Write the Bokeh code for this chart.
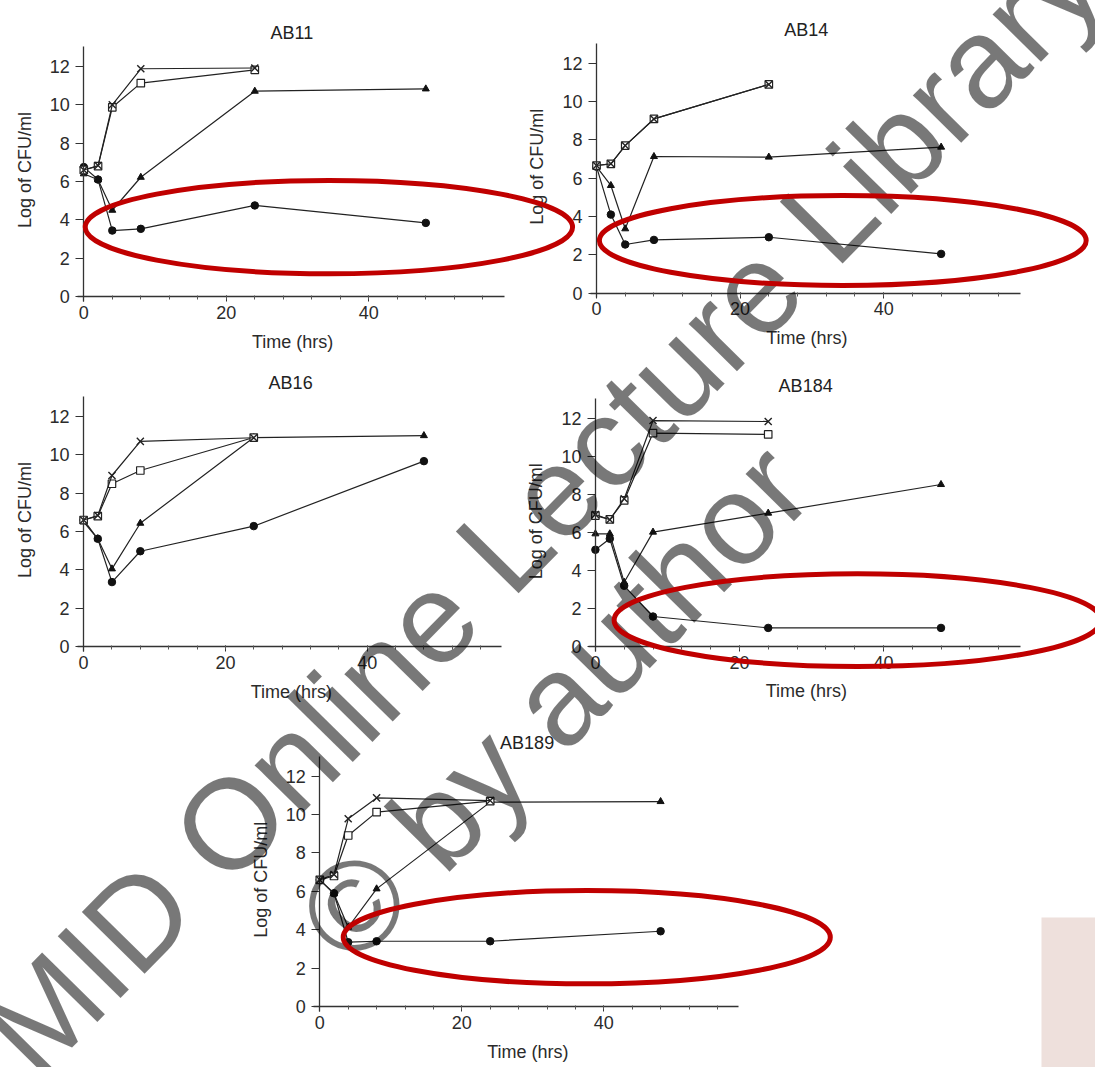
import math
from bokeh.plotting import figure
from bokeh.models import Range1d, LinearAxis, FixedTicker
from bokeh.core.properties import value
from bokeh.embed import file_html
from bokeh.resources import INLINE

# ---------------- data ----------------
TIME = [0, 2, 4, 8, 24, 48]
TITLES = ["AB11", "AB14", "AB16", "AB184", "AB189"]

CROSS = {
    "AB11":  [6.6, 6.83, 10.0, 11.88, 11.92],
    "AB14":  [6.66, 6.75, 7.7, 9.09, 10.89],
    "AB16":  [6.6, 6.83, 8.92, 10.7, 10.89],
    "AB184": [6.96, 6.68, 7.79, 11.91, 11.86],
    "AB189": [6.6, 6.88, 9.78, 10.87, 10.73],
}
SQUARE = {
    "AB11":  [6.6, 6.8, 9.87, 11.13, 11.82],
    "AB14":  [6.66, 6.75, 7.7, 9.09, 10.89],
    "AB16":  [6.6, 6.8, 8.49, 9.18, 10.9],
    "AB184": [6.9, 6.7, 7.7, 11.25, 11.18],
    "AB189": [6.6, 6.8, 8.91, 10.13, 10.7],
}
TRIANGLE = {
    "AB11":  [6.4, 6.09, 4.5, 6.22, 10.71, 10.83],
    "AB14":  [6.6, 5.62, 3.36, 7.13, 7.1, 7.62],
    "AB16":  [6.5, 5.62, 4.05, 6.43, 10.9, 11.0],
    "AB184": [5.94, 5.94, 3.39, 6.03, 7.03, 8.54],
    "AB189": [6.6, 5.87, 4.13, 6.13, 10.65, 10.68],
}
CIRCLE = {
    "AB11":  [6.75, 6.1, 3.44, 3.53, 4.75, 3.84],
    "AB14":  [6.6, 4.1, 2.54, 2.78, 2.92, 2.05],
    "AB16":  [6.6, 5.62, 3.36, 4.97, 6.28, 9.67],
    "AB184": [5.1, 5.68, 3.2, 1.58, 0.98, 0.98],
    "AB189": [6.6, 5.9, 3.35, 3.4, 3.4, 3.92],
}
# highlighted region (red ellipse) per panel: centre x, centre y, width, height (data units)
HIGHLIGHT = {
    "AB11":  (34.4, 3.62, 68.4, 4.87),
    "AB14":  (34.3, 2.75, 67.8, 4.69),
    "AB184": (36.4, 1.39, 67.6, 4.89),
    "AB189": (37.6, 3.61, 68.6, 4.86),
}
X_TICKS = [0, 20, 40]
X_MINOR = [4 * i for i in range(1, 15)]
Y_TICKS = [0, 2, 4, 6, 8, 10, 12]
X_LABEL = "Time (hrs)"
Y_LABEL = "Log of CFU/ml"
WATERMARK = ["MID Online Lecture Library", "\u00a9 by author"]

# ---------------- layout ----------------
CW, CH = 1095, 1067
# picture-pixel origin of each panel and pixels per data unit
PANELS = {
    "AB11":  dict(ox=83.3, oy=296.0, sx=7.125, sy=19.17),
    "AB14":  dict(ox=596.0, oy=292.7, sx=7.18, sy=19.17),
    "AB16":  dict(ox=83.1, oy=646.0, sx=7.09, sy=19.17),
    "AB184": dict(ox=594.9, oy=646.0, sx=7.2, sy=18.97),
    "AB189": dict(ox=319.3, oy=1006.0, sx=7.1, sy=19.19),
}
# watermark line centres (picture pixels) and angle
WM_X = [541.4, 553.0]
WM_Y = [505.5, 702.0]
WM_ANGLE = 45.5

FONT = "Liberation Sans"
INK = "#222222"

p = figure(width=CW, height=CH, output_backend="svg", toolbar_location=None,
           x_axis_location=None, y_axis_location=None,
           x_range=Range1d(0, CW), y_range=Range1d(0, CH),
           min_border=0, outline_line_color=None,
           background_fill_color="white", border_fill_color="white")
p.xgrid.visible = False
p.ygrid.visible = False

# decorative page corner
p.quad(left=[1041], right=[CW + 5], bottom=[-5], top=[CH - 917],
       fill_color="#eee0dc", line_color=None)

for name in TITLES:
    g = PANELS[name]
    cx0, cy0 = g["ox"], g["oy"]
    xr = Range1d(-cx0 / g["sx"], (CW - cx0) / g["sx"])
    yr = Range1d((cy0 - CH) / g["sy"], cy0 / g["sy"])
    xn, yn = "x_" + name, "y_" + name
    p.extra_x_ranges[xn] = xr
    p.extra_y_ranges[yn] = yr
    kw = dict(x_range_name=xn, y_range_name=yn)

    xa = LinearAxis(fixed_location=0, bounds=(-0.9, 59.0),
                    ticker=FixedTicker(ticks=X_TICKS, minor_ticks=X_MINOR), **kw)
    ya = LinearAxis(fixed_location=0, bounds=(-0.25, 13.05),
                    ticker=FixedTicker(ticks=Y_TICKS, minor_ticks=[]), **kw)
    for ax in (xa, ya):
        ax.axis_line_color = "#333333"
        ax.axis_line_width = 1.3
        ax.major_tick_line_color = "#333333"
        ax.minor_tick_line_color = "#555555"
        ax.major_label_text_font = FONT
        ax.major_label_text_font_size = "18px"
        ax.major_label_text_color = "#2b2b2b"
    xa.major_tick_out = 5
    xa.major_tick_in = 1
    xa.minor_tick_out = 3
    xa.minor_tick_in = 1
    xa.major_label_standoff = 4
    ya.major_tick_out = 8
    ya.major_tick_in = 0
    ya.major_label_standoff = 6
    p.add_layout(xa, "below")
    p.add_layout(ya, "left")

    # series
    t5 = TIME[:len(CROSS[name])]
    p.line(TIME, CIRCLE[name], line_color=INK, line_width=1.2, **kw)
    p.scatter(TIME, CIRCLE[name], marker="circle", size=7.5, fill_color="#111111",
              line_color="#111111", **kw)
    p.line(TIME, TRIANGLE[name], line_color=INK, line_width=1.2, **kw)
    p.scatter(TIME, TRIANGLE[name], marker="triangle", size=7, fill_color="#111111",
              line_color="#111111", **kw)
    p.line(t5, SQUARE[name], line_color=INK, line_width=1.2, **kw)
    p.scatter(t5, SQUARE[name], marker="square", size=7.5, fill_color="white",
              line_color=INK, line_width=1.2, **kw)
    p.line(t5, CROSS[name], line_color=INK, line_width=1.2, **kw)
    p.scatter(t5, CROSS[name], marker="x", size=10, line_color=INK, line_width=1.4, **kw)

    # title and axis labels
    p.text(x=[29.2], y=[13.75], text=[name], text_font=value(FONT),
           text_font_size=value("18px"), text_color="#222222",
           text_align="center", text_baseline="middle", **kw)
    p.text(x=[29.3], y=[-2.35], text=[X_LABEL], text_font=value(FONT),
           text_font_size=value("18px"), text_color="#2b2b2b",
           text_align="center", text_baseline="middle", **kw)
    p.text(x=[-8.3], y=[6.6], text=[Y_LABEL], text_font=value(FONT),
           text_font_size=value("18px"), text_color="#2b2b2b", angle=math.pi / 2,
           text_align="center", text_baseline="middle", **kw)

# watermark
wm = p.text(x=WM_X, y=[CH - v for v in WM_Y],
            text=WATERMARK, text_font=value(FONT), text_font_size=value("128px"),
            text_color="black", text_alpha=0.53, angle=math.radians(WM_ANGLE),
            text_align="center", text_baseline="alphabetic")
wm.level = "annotation"

# red highlight ellipses
for name, (ex, ey, ew, eh) in HIGHLIGHT.items():
    r = p.ellipse(x=[ex], y=[ey], width=[ew], height=[eh], fill_color=None,
                  line_color="#c00000", line_width=5,
                  x_range_name="x_" + name, y_range_name="y_" + name)
    r.level = "overlay"

open("out.html", "w").write(file_html(p, INLINE))
